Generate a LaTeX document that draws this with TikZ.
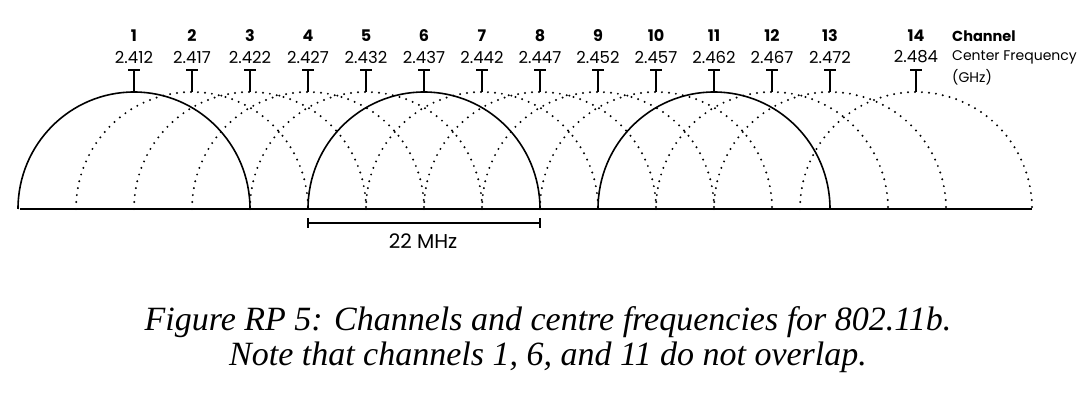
\documentclass[tikz,border=0pt]{standalone}
\usepackage{fontspec}
\setsansfont{Poppins}
\setmainfont{Liberation Serif}
\usepackage{tikz}

\tikzset{
	lbl/.style={font=\sffamily\fontsize{16.5}{18}\selectfont, inner sep=0pt},
	chan/.style={lbl, font=\sffamily\bfseries\fontsize{16}{18}\selectfont},
	legend/.style={lbl, anchor=west, font=\sffamily\fontsize{14}{16}\selectfont},
	onair/.style={line width=1.6pt},
	offair/.style={line width=2.2pt, line cap=round, dash pattern=on 0pt off 7pt}
}

\begin{document}
\begin{tikzpicture}[x=1pt, y=-1pt]
	\useasboundingbox (0,0) rectangle (1088,414);
	% channels
	\foreach \i/\x/\f/\s in {1/134/2.412/onair, 2/192/2.417/offair, 3/250/2.422/offair,
		4/308/2.427/offair, 5/366/2.432/offair, 6/424/2.437/onair, 7/482/2.442/offair,
		8/540/2.447/offair, 9/598/2.452/offair, 10/656/2.457/offair, 11/714/2.462/onair,
		12/772/2.467/offair, 13/830/2.472/offair, 14/916/2.484/offair}
	{
		\node[chan] (ch\i) at (\x, 36) {\i};
		\node[lbl] (fr\i) at (\x, 57) {\f};
		\coordinate (tick\i) at (\x, 70);
		\coordinate (top\i) at (\x, 92);
		\coordinate (base\i) at (\x-116, 209);
		\draw[\s] (base\i) arc[start angle=180, end angle=360, x radius=116, y radius=117];
		\draw[line width=1.4pt] (tick\i) -- (top\i);
		\draw[line width=1.2pt] ([xshift=-6pt]tick\i) -- ([xshift=6pt]tick\i);
	}
	% legend
	\node[legend, font=\sffamily\bfseries\fontsize{14.5}{16}\selectfont] (chanlbl) at (952, 36) {Channel};
	\node[legend] (freqlbl) at (952, 57) {Center Frequency};
	\node[legend] (ghz) at (952, 77) {(GHz)};
	% baseline
	\coordinate (left) at (20, 209);
	\coordinate (right) at (1032, 209);
	\draw[line width=1.3pt] (left) -- (right);
	% bandwidth
	\coordinate (bwa) at (308, 223);
	\coordinate (bwb) at (540, 223);
	\draw[line width=1.5pt] (bwa) -- (bwb);
	\draw[line width=1.2pt] ([yshift=-5pt]bwa) -- ([yshift=5pt]bwa);
	\draw[line width=1.2pt] ([yshift=-5pt]bwb) -- ([yshift=5pt]bwb);
	\node[lbl, font=\sffamily\fontsize{20}{22}\selectfont] (bw) at (423, 241) {22 MHz};
	% caption
	\node[font=\itshape\fontsize{34}{35}\selectfont, align=center] (caption) at (548, 340)
		{Figure RP 5: Channels and centre frequencies for 802.11b.\\
		Note that channels 1, 6, and 11 do not overlap.};
\end{tikzpicture}
\end{document}
